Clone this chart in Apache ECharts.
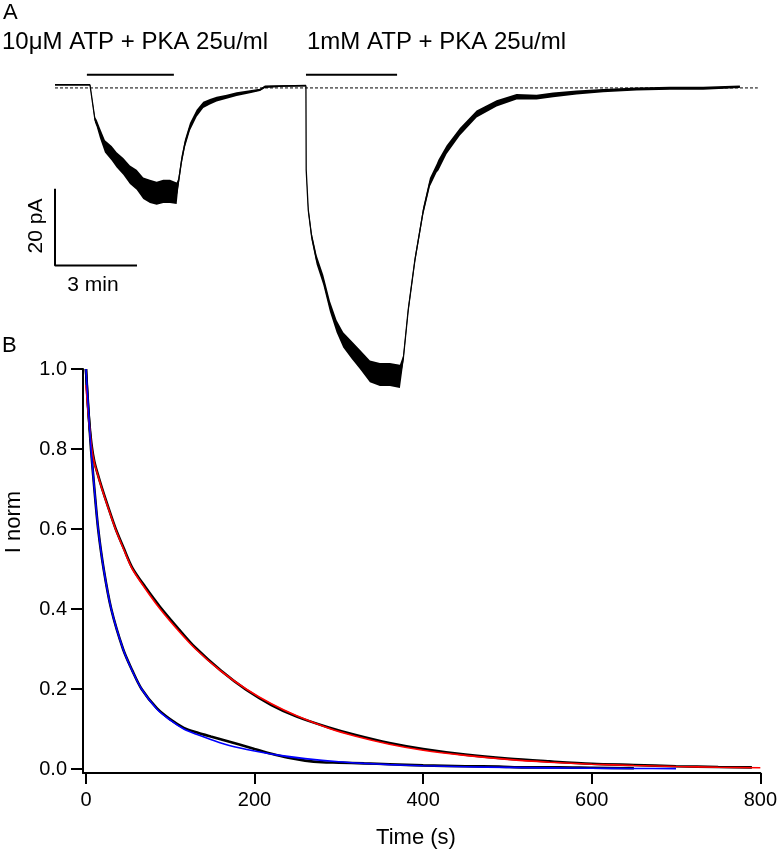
<!DOCTYPE html>
<html>
<head>
<meta charset="utf-8">
<script src="https://cdn.jsdelivr.net/npm/echarts@6/dist/echarts.min.js"></script>
<style>
html,body{margin:0;padding:0;background:#fff;}
#c{width:780px;height:853px;}
</style>
</head>
<body>
<div id="c"></div>
<script>
// ---------- Panel A: whole-cell current traces (time in s, current in pA) ----------
const trace1Time    = [0, 76.8, 87.8, 91.5, 98.8, 109.7, 124.4, 135.4, 149.9, 164.6, 179.3, 193.8, 208.5, 223.2, 237.7, 252.4, 267.1, 270.6, 278.1, 285.3, 296.3, 311.0, 325.5, 340.2, 354.9, 376.9, 398.8, 428.0, 450.0, 461.0, 501.1, 550.9];
const trace1Current = [0.8, 0.8, -8.3, -9.2, -11.8, -15.2, -17.0, -18.7, -20.4, -22.6, -23.9, -26.1, -26.9, -27.4, -26.9, -26.9, -27.4, -24.8, -18.7, -14.4, -10.1, -6.6, -4.4, -3.6, -2.9, -2.3, -1.6, -1.0, -0.5, 0.3, 0.5, 0.6];
const trace1Noise   = [0.2, 0.2, 0.7, 0.9, 1.3, 1.6, 1.9, 2.0, 2.2, 2.4, 2.6, 2.8, 3.0, 3.0, 3.0, 3.0, 2.8, 1.2, 1.1, 1.0, 1.0, 0.9, 0.8, 0.7, 0.6, 0.5, 0.5, 0.4, 0.3, 0.3, 0.2, 0.2];

const trace2Time    = [550.9, 551.5, 556.0, 563.4, 574.4, 588.9, 603.6, 618.3, 632.8, 651.2, 669.4, 691.4, 713.3, 735.3, 757.2, 764.5, 775.5, 790.2, 808.4, 823.1, 837.8, 842.0, 859.7, 888.9, 925.6, 969.5, 1013.4, 1057.3, 1093.7, 1145.1, 1203.5, 1276.8, 1349.9, 1423.0, 1503.5];
const trace2Current = [0.6, -21.3, -31.7, -38.6, -44.7, -49.9, -56.8, -62.0, -65.5, -68.1, -70.6, -73.7, -74.5, -74.5, -75.0, -70.6, -57.7, -44.7, -32.0, -24.5, -20.9, -20.0, -16.1, -11.4, -6.8, -4.0, -2.3, -2.4, -1.8, -1.2, -0.7, -0.3, -0.1, -0.1, 0.3];
const trace2Noise   = [0.2, 0.3, 0.8, 1.0, 1.2, 1.3, 1.4, 1.6, 2.0, 2.3, 2.5, 2.8, 3.0, 3.0, 3.0, 1.0, 0.9, 0.9, 1.0, 1.1, 1.1, 1.4, 1.1, 1.0, 0.9, 0.8, 0.7, 0.6, 0.6, 0.5, 0.4, 0.4, 0.4, 0.4, 0.3];

const applicationStart = [70, 551];   // s
const applicationEnd   = [261, 751];  // s
const baselineEnd = 1543;             // s
const scaleBarTime = 180;             // s (3 min)
const scaleBarCurrent = 20;           // pA

const titleTexts = ['10\u03bcM ATP + PKA 25u/ml', '1mM ATP + PKA 25u/ml'];

// ---------- Panel B: normalised current decay (time in s) ----------
const fastTime = [0, 3, 6, 10, 14.5, 21, 30, 44, 55, 66, 84, 100, 116, 132, 148, 165, 182, 200, 220, 240, 260, 280, 300, 330, 360, 400, 450, 490, 520, 560, 600, 650];
const fastData = [1.0, 0.895, 0.8, 0.7, 0.6, 0.5, 0.4, 0.3, 0.246, 0.2, 0.152, 0.124, 0.103, 0.091, 0.081, 0.071, 0.061, 0.05, 0.038, 0.028, 0.021, 0.017, 0.016, 0.014, 0.012, 0.009, 0.007, 0.006, 0.004, 0.004, 0.003, 0.002];

const fastFitTime = [0, 3, 6, 10, 14.5, 21, 30, 44, 55, 66, 84, 100, 116, 132, 148, 170, 200, 230, 260, 300, 330, 360, 400, 450, 500, 550, 600, 650, 700];
const fastFit     = [1.0, 0.895, 0.8, 0.7, 0.6, 0.5, 0.4, 0.3, 0.245, 0.2, 0.15, 0.122, 0.1, 0.086, 0.074, 0.059, 0.045, 0.034, 0.026, 0.018, 0.014, 0.011, 0.008, 0.0057, 0.004, 0.0028, 0.002, 0.0014, 0.001];

const slowTime = [0, 2, 4, 7, 10, 14, 19, 26, 35, 45, 55, 70, 88, 110, 130, 160, 190, 220, 250, 288, 320, 360, 400, 450, 500, 550, 600, 650, 700, 750, 790];
const slowData = [1.0, 0.92, 0.865, 0.805, 0.768, 0.737, 0.702, 0.657, 0.602, 0.551, 0.503, 0.456, 0.405, 0.350, 0.303, 0.246, 0.198, 0.160, 0.131, 0.104, 0.085, 0.065, 0.050, 0.036, 0.026, 0.019, 0.013, 0.010, 0.007, 0.005, 0.004];

const slowFitTime = [0, 2, 4, 7, 10, 14, 19, 26, 35, 45, 55, 70, 88, 110, 130, 160, 190, 220, 250, 288, 320, 360, 400, 450, 500, 550, 600, 650, 700, 750, 800];
const slowFit     = [0.96, 0.905, 0.86, 0.80, 0.765, 0.735, 0.70, 0.655, 0.60, 0.548, 0.50, 0.452, 0.40, 0.345, 0.30, 0.245, 0.20, 0.163, 0.133, 0.102, 0.082, 0.062, 0.047, 0.034, 0.024, 0.017, 0.012, 0.0087, 0.0062, 0.0044, 0.0032];

const xTicks = [0, 200, 400, 600, 800];
const yTicks = [0, 0.2, 0.4, 0.6, 0.8, 1.0];

// ---------- build ----------
const FONT = '"Liberation Sans", Arial, sans-serif';
const zip = (a, b) => a.map((v, i) => [v, b[i]]);

function bandSeries(times, cur, noise) {
  return {
    type: 'custom', xAxisIndex: 0, yAxisIndex: 0, silent: true, z: 2,
    data: [[times[0], cur[0]]],
    renderItem: function (params, api) {
      const up = [], lo = [];
      for (let i = 0; i < times.length; i++) {
        up.push(api.coord([times[i], cur[i] + noise[i]]));
        lo.push(api.coord([times[i], cur[i] - noise[i]]));
      }
      return { type: 'polygon', shape: { points: up.concat(lo.reverse()) }, style: { fill: '#000' } };
    }
  };
}

function lineSeries(data, color, width, xi, extra) {
  return Object.assign({
    type: 'line', xAxisIndex: xi, yAxisIndex: xi, data: data, showSymbol: false, symbol: 'none',
    silent: true, lineStyle: { color: color, width: width }
  }, extra || {});
}

const scaleOrigin = [0, -46.2];
const barLevel = 3.4;

const series = [
  lineSeries([[0, 0], [baselineEnd, 0]], '#000', 1, 0, { lineStyle: { color: '#000', width: 1, type: [3, 2] }, z: 1 }),
  lineSeries([[applicationStart[0], barLevel], [applicationEnd[0], barLevel]], '#000', 2, 0),
  lineSeries([[applicationStart[1], barLevel], [applicationEnd[1], barLevel]], '#000', 2, 0),
  bandSeries(trace1Time, trace1Current, trace1Noise),
  bandSeries(trace2Time, trace2Current, trace2Noise),
  lineSeries(zip(trace1Time, trace1Current), '#000', 1.3, 0, { z: 3 }),
  lineSeries(zip(trace2Time, trace2Current), '#000', 1.3, 0, { z: 3 }),
  lineSeries([[scaleOrigin[0], scaleOrigin[1] + scaleBarCurrent], scaleOrigin, [scaleOrigin[0] + scaleBarTime, scaleOrigin[1]]], '#000', 2, 0),
  lineSeries(zip(slowTime, slowData), '#000', 2.6, 1, { z: 2, smooth: 0.3 }),
  lineSeries(zip(fastTime, fastData), '#000', 2.6, 1, { z: 2, smooth: 0.3 }),
  lineSeries(zip(slowFitTime, slowFit), '#ff0000', 1.6, 1, { z: 4, smooth: 0.3 }),
  lineSeries(zip(fastFitTime, fastFit), '#0000ff', 1.6, 1, { z: 4, smooth: 0.3 })
];

function txt(text, x, y, size, opts) {
  return Object.assign({
    type: 'text', x: x, y: y, silent: true,
    style: Object.assign({
      text: text, x: 0, y: 0, fill: '#000', font: size + 'px ' + FONT,
      align: 'left', textAlign: 'left', verticalAlign: 'middle', textVerticalAlign: 'middle'
    }, (opts && opts.style) || {})
  }, (opts && opts.el) || {});
}
const center = { style: { align: 'center', textAlign: 'center' } };
const rotCenter = { style: { align: 'center', textAlign: 'center' }, el: { rotation: Math.PI / 2 } };

const option = {
  animation: false,
  backgroundColor: '#fff',
  grid: [
    { left: 55, top: 61, width: 706, height: 350 },
    { left: 83, top: 369, width: 680, height: 404 }
  ],
  xAxis: [
    { gridIndex: 0, type: 'value', min: 0, max: 1550, show: false },
    {
      gridIndex: 1, type: 'value', min: -3.5, max: 800,
      axisLine: { onZero: false, lineStyle: { color: '#000', width: 2 } },
      axisTick: { customValues: xTicks, length: 11, lineStyle: { color: '#000', width: 2 } },
      axisLabel: { customValues: xTicks, margin: 17, fontSize: 20, color: '#000', fontFamily: FONT },
      splitLine: { show: false }
    }
  ],
  yAxis: [
    { gridIndex: 0, type: 'value', min: -84, max: 7, show: false },
    {
      gridIndex: 1, type: 'value', min: -0.01, max: 1.0,
      axisLine: { onZero: false, lineStyle: { color: '#000', width: 2 } },
      axisTick: { customValues: yTicks, length: 12, lineStyle: { color: '#000', width: 2 } },
      axisLabel: { customValues: yTicks, margin: 16, fontSize: 20, color: '#000', fontFamily: FONT, formatter: v => Number(v).toFixed(1) },
      splitLine: { show: false }
    }
  ],
  series: series,
  graphic: [
    txt('A', 3, 13, 22),
    txt(titleTexts[0], 2, 42, 24),
    txt(titleTexts[1], 307, 42, 24),
    txt('20 pA', 36, 226, 21, rotCenter),
    txt('3 min', 93, 285, 21, center),
    txt('B', 2, 346, 22),
    txt('I norm', 14, 522, 22, rotCenter),
    txt('Time (s)', 416, 838, 22, center)
  ]
};

const chart = echarts.init(document.getElementById('c'), null, { renderer: 'canvas' });
chart.setOption(option);
</script>
</body>
</html>
